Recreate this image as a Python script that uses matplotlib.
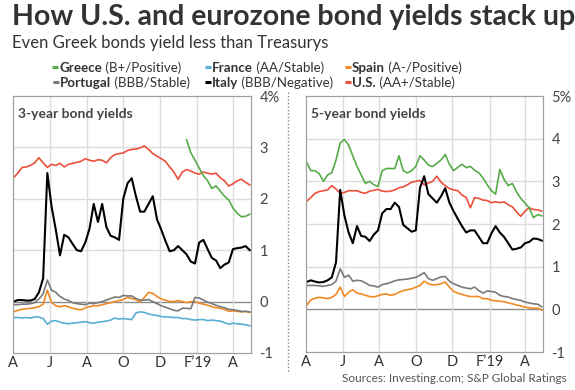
import matplotlib
matplotlib.use("Agg")
import matplotlib.pyplot as plt
from matplotlib.lines import Line2D
import numpy as np
import pandas as pd

plt.rcParams['font.family'] = ['Lato', 'DejaVu Sans']

# weekly observations, Apr 2018 - Apr 2019
dates = pd.date_range("2018-04-02", periods=57, freq="7D")

# ---- 3-year yields (%)
us_3y = [2.41, 2.50, 2.61, 2.62, 2.65, 2.70, 2.80, 2.70, 2.61, 2.67,
         2.65, 2.69, 2.62, 2.67, 2.69, 2.71, 2.73, 2.78, 2.75, 2.73,
         2.76, 2.75, 2.70, 2.80, 2.86, 2.88, 2.89, 2.94, 2.96, 2.97,
         2.99, 3.03, 2.96, 2.88, 2.83, 2.78, 2.73, 2.62, 2.52, 2.38,
         2.52, 2.57, 2.54, 2.50, 2.48, 2.52, 2.50, 2.48, 2.50, 2.41,
         2.35, 2.25, 2.29, 2.35, 2.38, 2.32, 2.27]
italy_3y = [0.00, 0.03, 0.03, 0.02, 0.02, 0.05, 0.18, 0.45, 2.50, 1.85,
            1.40, 0.90, 1.30, 1.25, 1.12, 1.00, 0.98, 1.15, 1.42, 1.90,
            1.55, 1.90, 1.45, 1.28, 1.25, 1.20, 2.00, 2.30, 2.40, 2.05,
            1.75, 1.75, 1.90, 2.05, 1.60, 1.40, 1.18, 0.98, 1.00, 1.08,
            1.00, 0.92, 0.78, 0.74, 1.15, 1.20, 1.02, 0.85, 0.80, 0.65,
            0.72, 0.76, 1.02, 1.04, 1.05, 1.08, 1.00]
portugal_3y = [-0.06, -0.06, -0.05, -0.05, -0.04, -0.02, 0.05, 0.15, 0.42, 0.22,
               0.18, 0.10, 0.05, 0.02, -0.02, -0.04, -0.05, -0.06, -0.03, -0.04,
               -0.02, 0.00, 0.03, 0.06, 0.09, 0.08, 0.12, 0.11, 0.11, 0.06,
               0.03, 0.03, 0.04, 0.00, -0.04, -0.08, -0.11, -0.14, -0.17, -0.18,
               -0.13, -0.13, -0.14, 0.08, 0.07, 0.03, -0.01, -0.04, -0.07, -0.10,
               -0.12, -0.15, -0.16, -0.17, -0.19, -0.19, -0.20]
spain_3y = [-0.20, -0.17, -0.15, -0.14, -0.13, -0.12, -0.10, -0.05, 0.22, -0.02,
            -0.08, -0.10, -0.08, -0.10, -0.13, -0.15, -0.16, -0.12, -0.10, -0.08,
            -0.08, -0.06, -0.04, -0.02, 0.00, 0.02, 0.04, 0.08, 0.06, 0.04,
            -0.01, 0.08, 0.18, 0.16, 0.10, 0.05, 0.03, 0.00, 0.00, 0.02,
            0.00, -0.02, 0.00, 0.00, -0.03, -0.05, -0.07, -0.10, -0.12, -0.13,
            -0.15, -0.19, -0.18, -0.19, -0.20, -0.19, -0.21]
france_3y = [-0.31, -0.31, -0.32, -0.31, -0.32, -0.30, -0.30, -0.33, -0.44, -0.38,
             -0.37, -0.40, -0.42, -0.43, -0.42, -0.41, -0.40, -0.39, -0.41, -0.42,
             -0.40, -0.39, -0.38, -0.36, -0.32, -0.34, -0.33, -0.34, -0.35, -0.22,
             -0.20, -0.21, -0.24, -0.26, -0.27, -0.29, -0.30, -0.30, -0.31, -0.31,
             -0.33, -0.33, -0.35, -0.36, -0.35, -0.35, -0.37, -0.36, -0.37, -0.38,
             -0.41, -0.44, -0.42, -0.43, -0.44, -0.45, -0.47]
# Greece 3-year only from mid-Jan 2019
greece_3y = [np.nan] * 41 + [3.15, 2.90, 2.75, 2.60, 2.45, 2.35, 2.20, 2.25,
                             2.15, 2.05, 1.98, 1.82, 1.72, 1.65, 1.66, 1.70]

# ---- 5-year yields (%)
greece_5y = [3.45, 3.25, 3.25, 3.18, 3.00, 3.15, 3.20, 3.50, 3.90, 3.98,
             3.85, 3.60, 3.35, 3.15, 2.95, 3.00, 2.92, 2.88, 3.25, 3.30,
             3.30, 3.30, 3.60, 3.25, 3.20, 3.25, 3.35, 3.60, 3.50, 3.38,
             3.35, 3.42, 3.50, 3.63, 3.40, 3.25, 3.33, 3.40, 3.32, 3.35,
             3.26, 3.20, 3.08, 2.92, 2.78, 2.70, 3.28, 3.05, 2.90, 2.95,
             2.75, 2.60, 2.49, 2.38, 2.15, 2.22, 2.19]
us_5y = [2.53, 2.62, 2.72, 2.76, 2.78, 2.80, 2.90, 2.82, 2.72, 2.74,
         2.78, 2.78, 2.78, 2.74, 2.72, 2.77, 2.79, 2.81, 2.77, 2.76,
         2.77, 2.80, 2.85, 2.87, 2.92, 2.98, 3.00, 3.02, 2.92, 2.96,
         3.00, 3.12, 2.98, 2.90, 2.83, 2.80, 2.78, 2.68, 2.62, 2.38,
         2.62, 2.60, 2.56, 2.55, 2.50, 2.52, 2.50, 2.52, 2.45, 2.40,
         2.28, 2.18, 2.30, 2.38, 2.34, 2.33, 2.30]
italy_5y = [0.64, 0.68, 0.65, 0.63, 0.64, 0.68, 0.75, 1.10, 2.80, 2.20,
            1.80, 1.55, 1.95, 1.72, 1.70, 1.60, 1.75, 1.85, 2.25, 2.35,
            2.35, 2.50, 2.40, 1.98, 1.90, 1.82, 1.85, 2.85, 3.12, 2.70,
            2.60, 2.50, 2.65, 2.84, 2.50, 2.30, 2.12, 1.95, 1.80, 1.85,
            1.85, 1.70, 1.55, 1.55, 1.78, 1.95, 1.80, 1.70, 1.55, 1.40,
            1.42, 1.45, 1.55, 1.58, 1.66, 1.65, 1.61]
portugal_5y = [0.56, 0.56, 0.56, 0.55, 0.54, 0.56, 0.58, 0.66, 0.95, 0.75,
               0.80, 0.66, 0.68, 0.67, 0.62, 0.56, 0.55, 0.52, 0.58, 0.60,
               0.63, 0.67, 0.69, 0.70, 0.71, 0.73, 0.75, 0.80, 0.86, 0.72,
               0.68, 0.72, 0.76, 0.77, 0.66, 0.60, 0.56, 0.52, 0.50, 0.48,
               0.52, 0.44, 0.38, 0.43, 0.42, 0.40, 0.33, 0.30, 0.29, 0.25,
               0.23, 0.21, 0.17, 0.15, 0.13, 0.12, 0.06]
spain_5y = [0.09, 0.22, 0.26, 0.28, 0.27, 0.25, 0.28, 0.35, 0.52, 0.30,
            0.40, 0.46, 0.38, 0.36, 0.33, 0.30, 0.29, 0.32, 0.35, 0.36,
            0.33, 0.35, 0.40, 0.44, 0.46, 0.48, 0.52, 0.56, 0.66, 0.60,
            0.57, 0.58, 0.60, 0.64, 0.52, 0.42, 0.38, 0.35, 0.32, 0.30,
            0.30, 0.30, 0.25, 0.25, 0.21, 0.20, 0.19, 0.18, 0.15, 0.13,
            0.10, 0.08, 0.05, 0.04, 0.02, 0.03, -0.02]

tick_dates = pd.to_datetime(["2018-04-01", "2018-06-01", "2018-08-01", "2018-10-01",
                             "2018-12-01", "2019-02-01", "2019-04-01"])
tick_labels = ["A", "J", "A", "O", "D", "F\u201919", "A"]

GREEN = "#56ac48"
BLUE = "#5aaed4"
ORANGE = "#f08a24"
GRAY = "#7a7a7a"
BLACK = "#000000"
RED = "#ec4f3a"
TXT = "#333333"
GRID = "#dcdcdc"

fig = plt.figure(figsize=(5.75, 3.9), dpi=100)
W, H = 575.0, 390.0


def px_axes(x0, y0, x1, y1):
    return fig.add_axes([x0 / W, 1 - y1 / H, (x1 - x0) / W, (y1 - y0) / H])


def style(ax, ymax, label):
    ax.set_xlim(pd.Timestamp("2018-04-01"), pd.Timestamp("2019-05-01"))
    ax.set_ylim(-1, ymax)
    ax.set_xticks(tick_dates)
    ax.set_xticklabels(tick_labels)
    yt = list(range(-1, ymax + 1))
    ax.set_yticks(yt)
    ax.set_yticklabels([str(v) if v != ymax else "%d%%" % v for v in yt])
    ax.yaxis.tick_right()
    ax.tick_params(length=0, labelsize=10.5, colors="#444444", pad=6)
    ax.tick_params(axis='x', pad=2, colors=TXT)
    for v in yt[1:-1]:
        ax.axhline(v, color="#8c8c8c" if v == 0 else GRID, lw=1.0, zorder=0)
    for d in tick_dates[1:]:
        ax.axvline(d, color=GRID, lw=1.0, zorder=0)
    for s in ax.spines.values():
        s.set_color("#a0a0a0")
        s.set_linewidth(0.9)
    ax.text(0.02, 0.955, label, transform=ax.transAxes, ha="left", va="top",
            fontsize=10, fontweight="bold", color="#444444")


ax1 = px_axes(13, 96, 251, 353)
ax1.plot(dates, france_3y, color=BLUE, lw=1.2)
ax1.plot(dates, spain_3y, color=ORANGE, lw=1.2)
ax1.plot(dates, portugal_3y, color=GRAY, lw=1.2)
ax1.plot(dates, us_3y, color=RED, lw=1.2)
ax1.plot(dates, greece_3y, color=GREEN, lw=1.2)
ax1.plot(dates, italy_3y, color=BLACK, lw=1.5)
style(ax1, 4, "3-year bond yields")

ax2 = px_axes(306, 96, 543, 352)
ax2.plot(dates, spain_5y, color=ORANGE, lw=1.2)
ax2.plot(dates, portugal_5y, color=GRAY, lw=1.2)
ax2.plot(dates, us_5y, color=RED, lw=1.2)
ax2.plot(dates, greece_5y, color=GREEN, lw=1.2)
ax2.plot(dates, italy_5y, color=BLACK, lw=1.5)
style(ax2, 5, "5-year bond yields")

# dotted separator between panels
fig.add_artist(Line2D([288 / W, 288 / W], [1 - 92 / H, 1 - 372 / H],
                      color="#888888", lw=1.0, linestyle=(0, (1, 1.5))))

# titles
fig.text(12 / W, 1 - 4 / H, "How U.S. and eurozone bond yields stack up",
         ha="left", va="top", fontsize=20.5, fontweight="bold", color="#333333")
fig.text(12 / W, 1 - 35 / H, "Even Greek bonds yield less than Treasurys",
         ha="left", va="top", fontsize=12, color="#333333")

# legend, built by hand
legend_items = [
    (GREEN, "Greece", " (B+/Positive)", 52, 67),
    (BLUE, "France", " (AA/Stable)", 205, 67),
    (ORANGE, "Spain", " (A-/Positive)", 345, 67),
    (GRAY, "Portugal", " (BBB/Stable)", 53, 82),
    (BLACK, "Italy", " (BBB/Negative)", 205, 82),
    (RED, "U.S.", " (AA+/Stable)", 345, 82),
]
renderer = fig.canvas.get_renderer()
for color, name, rating, x, y in legend_items:
    fig.add_artist(Line2D([x / W, (x + 6) / W], [1 - y / H, 1 - y / H],
                          color=color, lw=2.2, solid_capstyle="butt"))
    t = fig.text((x + 7) / W, 1 - y / H, name, ha="left", va="center_baseline",
                 fontsize=9.6, fontweight="bold", color="#333333")
    bb = t.get_window_extent(renderer)
    fig.text(bb.x1 / W, 1 - y / H, rating, ha="left",
             va="center_baseline", fontsize=9.6, color="#333333")

fig.text(567 / W, 1 - 378 / H, "Sources: Investing.com; S&P Global Ratings",
         ha="right", va="center", fontsize=8.5, color="#555555")

fig.savefig("out.png", dpi=100)
